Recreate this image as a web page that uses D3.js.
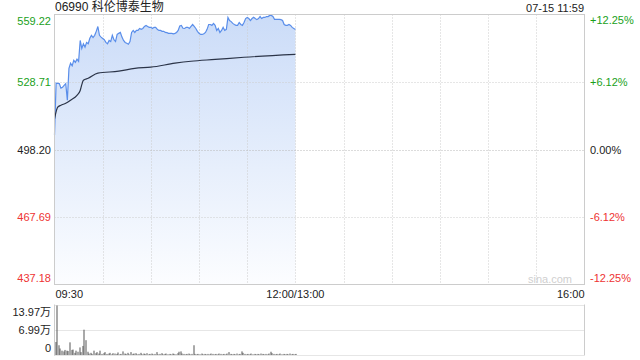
<!DOCTYPE html>
<html>
<head>
<meta charset="utf-8">
<script src="https://cdn.jsdelivr.net/npm/d3@7"></script>
<style>
  body { margin: 0; background: #fff; }
  svg text { font-family: "Liberation Sans", Arial, "Noto Sans CJK SC", sans-serif; }
</style>
</head>
<body>
<script>
// chart data
var stockTitle = "06990 科伦博泰生物";
var stampText = "07-15 11:59";
var prevClose = 498.20;
var priceTicks = [559.22, 528.71, 498.20, 467.69, 437.18];
var pctTicks = ["+12.25%", "+6.12%", "0.00%", "-6.12%", "-12.25%"];
var volTicks = [139700, 69900, 0];
var volTickLabels = ["13.97万", "6.99万", "0"];
var timeLabels = [{ m: 0, t: "09:30" }, { m: 150, t: "12:00/13:00" }, { m: 330, t: "16:00" }];

// price per minute from 09:30
var prices = [
  504.7, 528.2, 528.1, 528.0, 525.9, 526.3, 527.2, 528.0, 520.5, 534.9,
  537.2, 536.0, 538.5, 537.6, 539.0, 538.0, 547.5, 543.9, 546.0, 544.5,
  546.6, 546.0, 548.5, 549.8, 548.8, 549.8, 551.6, 553.8, 549.8, 549.0,
  548.4, 547.8, 546.6, 546.0, 547.5, 547.0, 549.8, 547.8, 547.0, 550.2,
  550.7, 551.1, 549.0, 547.5, 546.6, 546.2, 545.8, 547.0, 551.1, 552.0,
  551.1, 552.0, 552.0, 552.9, 552.5, 552.9, 553.8, 554.3, 553.8, 553.4,
  553.4, 552.9, 553.4, 553.4, 552.5, 552.0, 552.0, 551.6, 551.6, 551.1,
  551.0, 550.7, 550.7, 550.7, 550.5, 550.7, 551.1, 552.0, 554.0, 554.3,
  553.0, 552.9, 553.4, 553.4, 552.9, 553.8, 554.7, 553.8, 552.9, 551.6,
  550.7, 550.2, 550.2, 550.5, 551.1, 552.5, 554.7, 554.7, 554.3, 555.2,
  554.3, 552.0, 552.9, 551.1, 552.0, 553.4, 552.0, 552.5, 557.9, 556.5,
  556.0, 555.2, 554.7, 554.3, 554.3, 555.6, 554.7, 554.3, 555.6, 557.4,
  557.9, 557.4, 556.5, 557.4, 558.0, 557.4, 556.9, 557.4, 558.3, 557.4,
  557.9, 557.9, 558.3, 558.3, 558.8, 558.8, 558.3, 557.0, 557.0, 557.0,
  557.0, 556.9, 556.5, 554.7, 554.3, 554.3, 554.7, 554.3, 553.4, 552.9,
  552.5
];

// average price line
var avgMinutes = [0, 2, 4, 7, 10, 14, 16, 17, 18, 21, 27, 40, 50, 60, 75, 85, 100, 118, 150];
var avgPrices = [512.0, 517.3, 518.2, 519.1, 520.5, 522.7, 524.9, 527.5, 529.5, 530.4, 532.7, 533.6, 534.9, 535.4, 537.2, 538.1, 538.9, 539.9, 541.2];

// volume per minute
var volumes = [
  36000, 137000, 27000, 18000, 12000, 10000, 14000, 12000, 11000, 35000,
  14000, 15000, 6000, 12000, 9000, 21000, 8000, 25000, 70000, 41000,
  9000, 4000, 6000, 3000, 12000, 5000, 8000, 4000, 12000, 3000,
  5000, 8000, 3000, 4000, 6000, 2000, 5000, 4000, 3000, 7000,
  2000, 3000, 10000, 4000, 3000, 6000, 2000, 8000, 3000, 4000,
  5000, 2000, 3000, 6000, 2000, 4000, 3000, 5000, 2000, 3000,
  4000, 2000, 3000, 8000, 2000, 3000, 5000, 2000, 3000, 4000,
  2000, 3000, 2000, 4000, 3000, 2000, 5000, 9000, 10000, 4000,
  3000, 2000, 3000, 4000, 2000, 3000, 27000, 3000, 2000, 3000,
  2000, 4000, 2000, 3000, 2000, 3000, 2000, 4000, 3000, 2000,
  3000, 2000, 4000, 3000, 2000, 3000, 2000, 4000, 8000, 3000,
  2000, 3000, 2000, 4000, 2000, 3000, 10000, 6000, 3000, 2000,
  3000, 2000, 4000, 2000, 3000, 2000, 3000, 2000, 4000, 3000,
  2000, 3000, 2000, 4000, 9000, 5000, 3000, 2000, 3000, 2000,
  4000, 2000, 3000, 2000, 3000, 2000, 4000, 2000, 3000, 2000,
  3000
];

var plotLeft = 54.5, plotRight = 584.5, plotTop = 14.5, plotBottom = 284.5;
var volTop = 304.5, volBottom = 355.5;
var green = "#1a9f1a", red = "#ee3333", gridColor = "#cccccc";

var svg = d3.select("body").append("svg")
  .attr("width", 640)
  .attr("height", 360);

var x = d3.scaleLinear().domain([0, 330]).range([plotLeft, plotRight]);
var y = d3.scaleLinear().domain([437.18, 559.22]).range([plotBottom, plotTop]);
var yv = d3.scaleLinear().domain([0, 139700]).range([volBottom - 0.5, volTop]);

var defs = svg.append("defs");
var grad = defs.append("linearGradient")
  .attr("id", "fillGrad")
  .attr("x1", 0).attr("y1", 0).attr("x2", 0).attr("y2", 1);
grad.append("stop").attr("offset", "0%").attr("stop-color", "#cbdcf8");
grad.append("stop").attr("offset", "100%").attr("stop-color", "#fcfdff");

// area under price
var area = d3.area()
  .x(function(d, i) { return x(i); })
  .y0(plotBottom)
  .y1(function(d) { return y(d); });
svg.append("path")
  .datum(prices)
  .attr("d", area)
  .attr("fill", "url(#fillGrad)");

// grid
var vGrid = d3.range(30, 330, 30);
svg.selectAll(".vgrid")
  .data(vGrid)
  .enter().append("line")
  .attr("x1", function(d) { return Math.round(x(d)) + 0.5; })
  .attr("x2", function(d) { return Math.round(x(d)) + 0.5; })
  .attr("y1", plotTop).attr("y2", plotBottom)
  .attr("stroke", gridColor)
  .attr("stroke-dasharray", "1,2");
svg.selectAll(".hgrid")
  .data(priceTicks.slice(1, 4))
  .enter().append("line")
  .attr("x1", plotLeft).attr("x2", plotRight)
  .attr("y1", function(d) { return Math.round(y(d)) + 0.5; })
  .attr("y2", function(d) { return Math.round(y(d)) + 0.5; })
  .attr("stroke", function(d) { return d === prevClose ? "#b8b8b8" : gridColor; })
  .attr("stroke-dasharray", "1,2");

svg.append("path")
  .datum(prices)
  .attr("d", d3.line().x(function(d, i) { return x(i); }).y(function(d) { return y(d); }))
  .attr("fill", "none")
  .attr("stroke", "#5a8eea")
  .attr("stroke-width", 1.2);

svg.append("path")
  .datum(avgMinutes)
  .attr("d", d3.line()
    .curve(d3.curveMonotoneX)
    .x(function(d) { return x(d); })
    .y(function(d, i) { return y(avgPrices[i]); }))
  .attr("fill", "none")
  .attr("stroke", "#2b3448")
  .attr("stroke-width", 1.2);

// frame
svg.append("rect")
  .attr("x", plotLeft).attr("y", plotTop)
  .attr("width", plotRight - plotLeft).attr("height", plotBottom - plotTop)
  .attr("fill", "none")
  .attr("stroke", gridColor);

// price labels
svg.selectAll(".plabel")
  .data(priceTicks)
  .enter().append("text")
  .attr("x", 51)
  .attr("y", function(d, i) { return i === 0 ? y(d) + 10 : (i === 4 ? y(d) - 3 : y(d) + 4); })
  .attr("text-anchor", "end")
  .attr("font-size", "11px")
  .attr("fill", function(d) { return d > prevClose ? green : (d < prevClose ? red : "#222"); })
  .text(function(d) { return d.toFixed(2); });

svg.selectAll(".pctlabel")
  .data(pctTicks)
  .enter().append("text")
  .attr("x", 590)
  .attr("y", function(d, i) { var v = priceTicks[i]; return i === 0 ? y(v) + 9 : (i === 4 ? y(v) - 3 : y(v) + 4); })
  .attr("font-size", "11px")
  .attr("fill", function(d) { return d[0] === "+" ? green : (d[0] === "-" ? red : "#222"); })
  .text(function(d) { return d; });

// title + stamp
svg.append("text")
  .attr("x", 55).attr("y", 11)
  .attr("font-size", "12px")
  .attr("fill", "#222")
  .text(stockTitle);
svg.append("text")
  .attr("x", 584).attr("y", 12)
  .attr("text-anchor", "end")
  .attr("font-size", "11px")
  .attr("fill", "#222")
  .text(stampText);

svg.append("text")
  .attr("x", 572).attr("y", 283)
  .attr("text-anchor", "end")
  .attr("font-size", "11px")
  .attr("fill", "#cfcfcf")
  .text("sina.com");

// time labels
svg.selectAll(".tlabel")
  .data(timeLabels)
  .enter().append("text")
  .attr("x", function(d) { return d.m === 0 ? x(d.m) + 1 : x(d.m); })
  .attr("y", 298)
  .attr("text-anchor", function(d) { return d.m === 0 ? "start" : (d.m === 330 ? "end" : "middle"); })
  .attr("font-size", "11px")
  .attr("fill", "#222")
  .text(function(d) { return d.t; });

// volume panel
svg.selectAll(".vhgrid")
  .data(volTicks)
  .enter().append("line")
  .attr("x1", plotLeft).attr("x2", plotRight)
  .attr("y1", function(d) { return Math.round(yv(d)) + 0.5; })
  .attr("y2", function(d) { return Math.round(yv(d)) + 0.5; })
  .attr("stroke", gridColor)
  .attr("stroke-dasharray", "1,1");
svg.append("line")
  .attr("x1", plotLeft).attr("x2", plotLeft)
  .attr("y1", volTop).attr("y2", volBottom)
  .attr("stroke", gridColor);
svg.append("line")
  .attr("x1", plotRight).attr("x2", plotRight)
  .attr("y1", volTop).attr("y2", volBottom)
  .attr("stroke", gridColor);

svg.selectAll(".vbar")
  .data(volumes)
  .enter().append("rect")
  .attr("x", function(d, i) { return Math.round(x(i)) + 0.5; })
  .attr("width", 1)
  .attr("y", function(d) { return yv(d); })
  .attr("height", function(d) { return yv(0) - yv(d); })
  .attr("fill", "#555");

svg.selectAll(".vlabel")
  .data(volTickLabels)
  .enter().append("text")
  .attr("x", 51)
  .attr("y", function(d, i) { return [316, 334, 352][i]; })
  .attr("text-anchor", "end")
  .attr("font-size", "11px")
  .attr("fill", "#222")
  .text(function(d) { return d; });
</script>
</body>
</html>
